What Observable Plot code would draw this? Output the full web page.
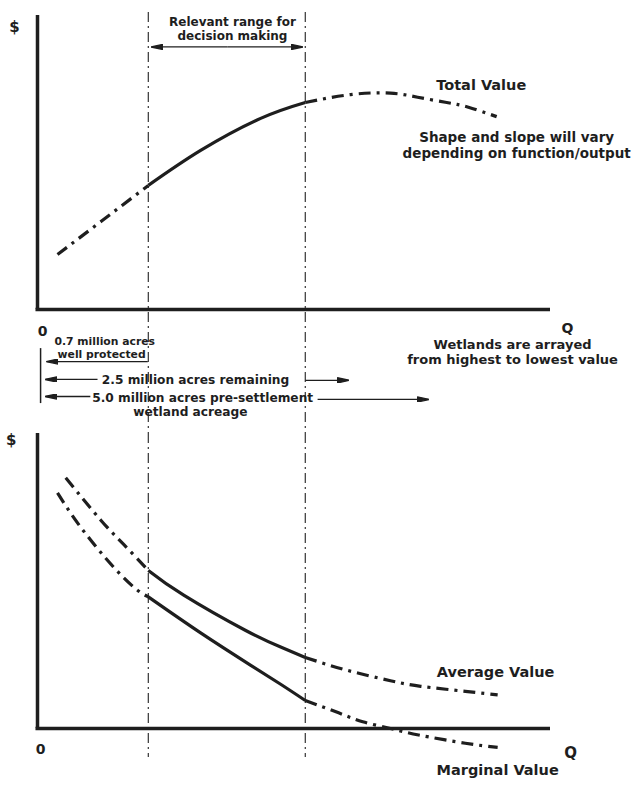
<!DOCTYPE html>
<html><head><meta charset="utf-8">
<script src="https://cdn.jsdelivr.net/npm/d3@7"></script>
<script src="https://cdn.jsdelivr.net/npm/@observablehq/plot@0.6"></script>
<style>
body{margin:0;background:#fff;}
#chart svg{display:block;}
</style></head><body><div id="chart"></div>
<script>
// Relevant range for decision making (Q positions of the two vertical lines)
const relevantRange = [21.6, 52.2];

// Top panel: Total Value
const totalQ = [3.9, 12.5, 21.6, 31.8, 43.5, 52.2, 61.0, 68.8, 74.1, 79.5, 84.0, 89.5];
const totalV = [18.7, 30.1, 42.2, 54.1, 65.0, 70.4, 73.1, 73.6, 72.2, 70.5, 68.8, 65.6];

// Bottom panel: Average Value and Marginal Value
const averageQ = [5.5, 12.3, 16.8, 21.6, 28.5, 40.5, 47.4, 52.2, 60.0, 68.8, 74.7, 83.4, 89.7];
const averageV = [85.0, 70.7, 62.4, 53.6, 45.2, 33.3, 27.6, 24.1, 19.9, 16.2, 14.3, 12.6, 11.4];
const marginalQ = [3.9, 7.8, 13.6, 18.7, 21.6, 31.8, 41.5, 47.4, 52.2, 58.7, 63.4, 68.8, 74.3, 83.4, 89.7];
const marginalV = [79.9, 69.7, 57.1, 48.0, 44.6, 32.4, 21.5, 15.0, 9.5, 5.3, 2.3, 0.0, -2.2, -5.0, -6.4];

// Text labels
const axisLabels = ["$", "0", "Q"];
const curveLabels = ["Total Value", "Average Value", "Marginal Value"];
const rangeTitle = ["Relevant range for", "decision making"];
const shapeNote = ["Shape and slope will vary", "depending on function/output"];
const arrayNote = ["Wetlands are arrayed", "from highest to lowest value"];
const acreLabels = ["0.7 million acres", "well protected", "2.5 million acres remaining",
                    "5.0 million acres pre-settlement", "wetland acreage"];

const INK = "#1e1e1e";
const FONT = "'DejaVu Sans', 'Liberation Sans', sans-serif";
const DASHDOT = "12,6,3,6";
const RULEDASH = "10,4,2,4";

// filled arrowhead marker (falls back to Plot's built-in arrow if function markers are unsupported)
function filledArrow(color, context) {
  const doc = (context && context.document) || document;
  const ns = "http://www.w3.org/2000/svg";
  const m = doc.createElementNS(ns, "marker");
  m.setAttribute("viewBox", "-11 -3 12 6");
  m.setAttribute("markerUnits", "userSpaceOnUse");
  m.setAttribute("markerWidth", 12);
  m.setAttribute("markerHeight", 6);
  m.setAttribute("orient", "auto");
  m.setAttribute("fill", color);
  const p = doc.createElementNS(ns, "path");
  p.setAttribute("d", "M-11,-2.6L1,0L-11,2.6Z");
  m.appendChild(p);
  return m;
}
let HEAD = "arrow";
try { Plot.link([0], {x1: 0, x2: 1, y1: 0, y2: 0, markerEnd: filledArrow}); HEAD = filledArrow; } catch (e) { HEAD = "arrow"; }

function parts(series, q, v, lo, hi) {
  const rows = q.map((x, i) => ({series, x, y: v[i]}));
  return [
    ...rows.filter(d => d.x <= lo).map(d => ({...d, part: series + "-before"})),
    ...rows.filter(d => d.x >= lo && d.x <= hi).map(d => ({...d, part: series + "-within"})),
    ...rows.filter(d => d.x >= hi).map(d => ({...d, part: series + "-after"}))
  ];
}
const [lo, hi] = relevantRange;
const totalData = parts("total", totalQ, totalV, lo, hi);
const lowerData = [...parts("average", averageQ, averageV, lo, hi), ...parts("marginal", marginalQ, marginalV, lo, hi)];

function curveMarks(data) {
  return [
    Plot.line(data.filter(d => d.part.endsWith("within")), {x: "x", y: "y", z: "part", curve: "natural",
      stroke: INK, strokeWidth: 3.2, strokeLinecap: "butt"}),
    Plot.line(data.filter(d => !d.part.endsWith("within")), {x: "x", y: "y", z: "part", curve: "natural",
      stroke: INK, strokeWidth: 3.2, strokeDasharray: DASHDOT, strokeLinecap: "butt"})
  ];
}
function label(text, x, y, size, anchor = "middle") {
  return Plot.text([text], {x, y, text: d => d, fontSize: size, fontWeight: "bold", fill: INK, textAnchor: anchor});
}
function arrow(x1, x2, y, sw = 1.3) {
  return Plot.link([0], {x1, x2, y1: y, y2: y, stroke: INK, strokeWidth: sw, markerEnd: HEAD});
}
const common = {
  width: 634, marginLeft: 37, marginRight: 84,
  x: {domain: [0, 100], axis: null},
  y: {domain: [0, 100], axis: null},
  style: {fontFamily: FONT, background: "#fff", color: INK, overflow: "visible"}
};

const topPlot = Plot.plot({
  ...common, height: 433, marginTop: 15, marginBottom: 124,
  marks: [
    Plot.ruleX(relevantRange, {y1: 101, y2: -42.2, stroke: "#333", strokeWidth: 1.2, strokeDasharray: RULEDASH}),
    Plot.ruleX([0], {y1: 0, y2: 100, stroke: INK, strokeWidth: 3.5}),
    Plot.ruleY([0], {x1: -0.3, x2: 100, stroke: INK, strokeWidth: 3.5}),
    ...curveMarks(totalData),
    label(axisLabels[0], -4.5, 95.9, 15),
    label(axisLabels[1], 1.0, -7.5, 14),
    label(axisLabels[2], 103.3, -6.6, 14),
    label(rangeTitle[0], 38.0, 97.8, 12),
    label(rangeTitle[1], 38.0, 93.1, 12),
    arrow(37, 22.3, 89.3), arrow(37, 51.6, 89.3),
    label(curveLabels[0], 86.5, 76.2, 14.5),
    label(shapeNote[0], 93.4, 58.5, 13.5),
    label(shapeNote[1], 93.4, 53.1, 13.5),
    label(arrayNote[0], 92.6, -12.0, 13),
    label(arrayNote[1], 92.6, -17.2, 13),
    label(acreLabels[0], 13.1, -10.9, 10.8),
    label(acreLabels[1], 12.5, -15.3, 10.8),
    arrow(21.5, 1.9, -17.7, 1.3),
    Plot.ruleX([0.6], {y1: -13.3, y2: -32.0, stroke: INK, strokeWidth: 1.5}),
    label(acreLabels[2], 30.8, -24.1, 12.2),
    arrow(11.7, 1.6, -23.8), arrow(52.2, 60.6, -24.1),
    label(acreLabels[3], 32.2, -30.3, 12.2),
    arrow(10.3, 1.6, -29.6), arrow(54.6, 76.2, -30.6),
    label(acreLabels[4], 29.8, -35.0, 12.2)
  ]
});

const bottomPlot = Plot.plot({
  ...common, height: 352, marginTop: 0, marginBottom: 57,
  marks: [
    Plot.ruleX(relevantRange, {y1: 100, y2: -9.8, stroke: "#333", strokeWidth: 1.2, strokeDasharray: RULEDASH}),
    Plot.ruleX([0], {y1: 0, y2: 100, stroke: INK, strokeWidth: 3.5}),
    Plot.ruleY([0], {x1: -0.3, x2: 100, stroke: INK, strokeWidth: 3.5}),
    ...curveMarks(lowerData),
    label(axisLabels[0], -5.1, 97.6, 15),
    label(axisLabels[1], 0.6, -7.1, 14),
    label(axisLabels[2], 103.9, -8.5, 15),
    label(curveLabels[1], 89.3, 19.0, 14.5),
    label(curveLabels[2], 89.7, -14.2, 14.5)
  ]
});

const chart = document.getElementById("chart");
chart.append(topPlot, bottomPlot);
</script>
</body></html>
